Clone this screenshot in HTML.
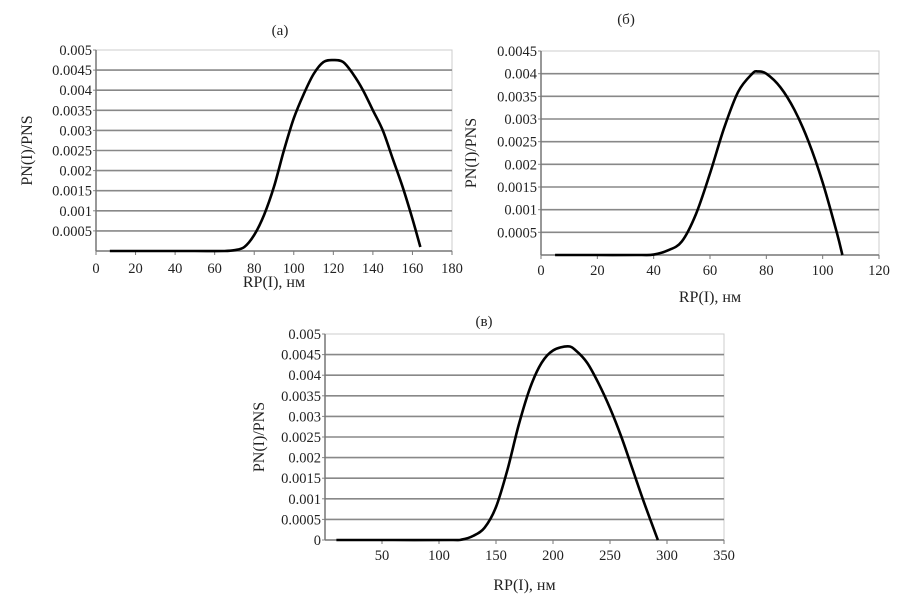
<!DOCTYPE html>
<html><head><meta charset="utf-8"><style>
body{margin:0;background:#fff}
text{font-family:"Liberation Serif","DejaVu Serif",serif;fill:#222}
</style></head><body>
<svg id="s" width="918" height="600" xmlns="http://www.w3.org/2000/svg"></svg>
<script>
const xA=[7,30,50,65,70,75,80,85,90,95,100,105,110,115,120,125,130,135,140,145,150,155,160,164];
const yA=[0,0,0,0,0.00002,0.0001,0.0004,0.0009,0.0016,0.0025,0.0033,0.0039,0.0044,0.0047,0.00475,0.0047,0.0044,0.0040,0.0035,0.0030,0.0023,0.0016,0.0008,0.0001];
const xB=[5,20,35,40,45,50,55,60,65,70,75,77,80,85,90,95,100,105,107];
const yB=[0,0,0,0.00001,0.0001,0.0003,0.0009,0.0018,0.0028,0.0036,0.004,0.00405,0.004,0.0037,0.0032,0.0025,0.0016,0.0005,0];
const xC=[10,60,110,120,130,140,150,160,170,180,190,200,213,220,230,240,250,260,270,280,292];
const yC=[0,0,0,0.00001,0.0001,0.0003,0.0008,0.0017,0.0028,0.0037,0.0043,0.0046,0.0047,0.0046,0.0043,0.0038,0.0032,0.0025,0.0017,0.0009,0];
const ticksXA=[0,20,40,60,80,100,120,140,160,180];
const ticksYA=["0.0005","0.001","0.0015","0.002","0.0025","0.003","0.0035","0.004","0.0045","0.005"];
const ticksXB=[0,20,40,60,80,100,120];
const ticksYB=["0.0005","0.001","0.0015","0.002","0.0025","0.003","0.0035","0.004","0.0045"];
const ticksXC=[50,100,150,200,250,300,350];
const ticksYC=["0","0.0005","0.001","0.0015","0.002","0.0025","0.003","0.0035","0.004","0.0045","0.005"];
const S=document.getElementById('s');const NS='http://www.w3.org/2000/svg';
function mk(t,a,txt){const e=document.createElementNS(NS,t);for(const k in a)e.setAttribute(k,a[k]);if(txt!==undefined)e.textContent=txt;S.appendChild(e);return e;}
function panel(p){
 const sx=v=>p.l+(v-p.x0)/(p.x1-p.x0)*(p.r-p.l), sy=v=>p.b-v/p.ymax*(p.b-p.t);
 let e=mk('rect',{x:p.l,y:p.t,width:p.r-p.l,height:p.b-p.t,fill:'none',stroke:'#ccc','stroke-width':1});
 
 p.yt.forEach(s=>{const v=parseFloat(s),y=sy(v);
  if(v>0&&v<p.ymax-1e-9){e=mk('line',{x1:p.l,x2:p.r,y1:y,y2:y,stroke:'#888','stroke-width':1.6});}
  e=mk('text',{x:p.l-4,y:y+5,'text-anchor':'end','font-size':14.5},s);
  e=mk('line',{x1:p.l-3,x2:p.l,y1:y,y2:y,stroke:'#888'});});
 e=mk('line',{x1:p.l,x2:p.r,y1:p.b,y2:p.b,stroke:'#777','stroke-width':1.5});
 e=mk('line',{x1:p.l,x2:p.l,y1:p.t,y2:p.b,stroke:'#777','stroke-width':1.5});
 p.xt.forEach(v=>{const x=sx(v);
  e=mk('line',{x1:x,x2:x,y1:p.b,y2:p.b+4,stroke:'#777'});
  e=mk('text',{x:x,y:p.b+p.xo,'text-anchor':'middle','font-size':14.5},String(v));});
 const pts=p.xs.map((v,i)=>[sx(v),sy(p.ys[i])]);
 let d='M'+pts[0][0]+','+pts[0][1];
 for(let i=0;i<pts.length-1;i++){const p0=pts[Math.max(0,i-1)],p1=pts[i],p2=pts[i+1],p3=pts[Math.min(pts.length-1,i+2)];
  d+=' C'+(p1[0]+(p2[0]-p0[0])/6)+','+(p1[1]+(p2[1]-p0[1])/6)+' '+(p2[0]-(p3[0]-p1[0])/6)+','+(p2[1]-(p3[1]-p1[1])/6)+' '+p2[0]+','+p2[1];}
 e=mk('path',{d:d,fill:'none',stroke:'#000','stroke-width':2.6});
 e=mk('text',{x:p.tx,y:p.ty,'text-anchor':'middle','font-size':15},p.title);
 e=mk('text',{x:(p.l+p.r)/2,y:p.xly,'text-anchor':'middle','font-size':16},'RP(I), нм');
 e=mk('text',{x:0,y:0,'text-anchor':'middle','font-size':16,transform:'translate('+p.ylx+','+((p.t+p.b)/2)+') rotate(-90)'},'PN(I)/PNS');
}
panel({id:'panel-a',l:96,r:452,t:50,b:251,x0:0,x1:180,ymax:0.005,xs:xA,ys:yA,xt:ticksXA,yt:ticksYA,xo:22,title:'(а)',tx:280,ty:35,xly:287,ylx:32});
panel({id:'panel-b',l:541,r:879,t:51,b:255,x0:0,x1:120,ymax:0.0045,xs:xB,ys:yB,xt:ticksXB,yt:ticksYB,xo:20,title:'(б)',tx:626,ty:24,xly:302,ylx:476});
panel({id:'panel-c',l:325,r:724,t:334,b:540,x0:0,x1:350,ymax:0.005,xs:xC,ys:yC,xt:ticksXC,yt:ticksYC,xo:20,title:'(в)',tx:484,ty:326,xly:590,ylx:264});
</script>
</body></html>
